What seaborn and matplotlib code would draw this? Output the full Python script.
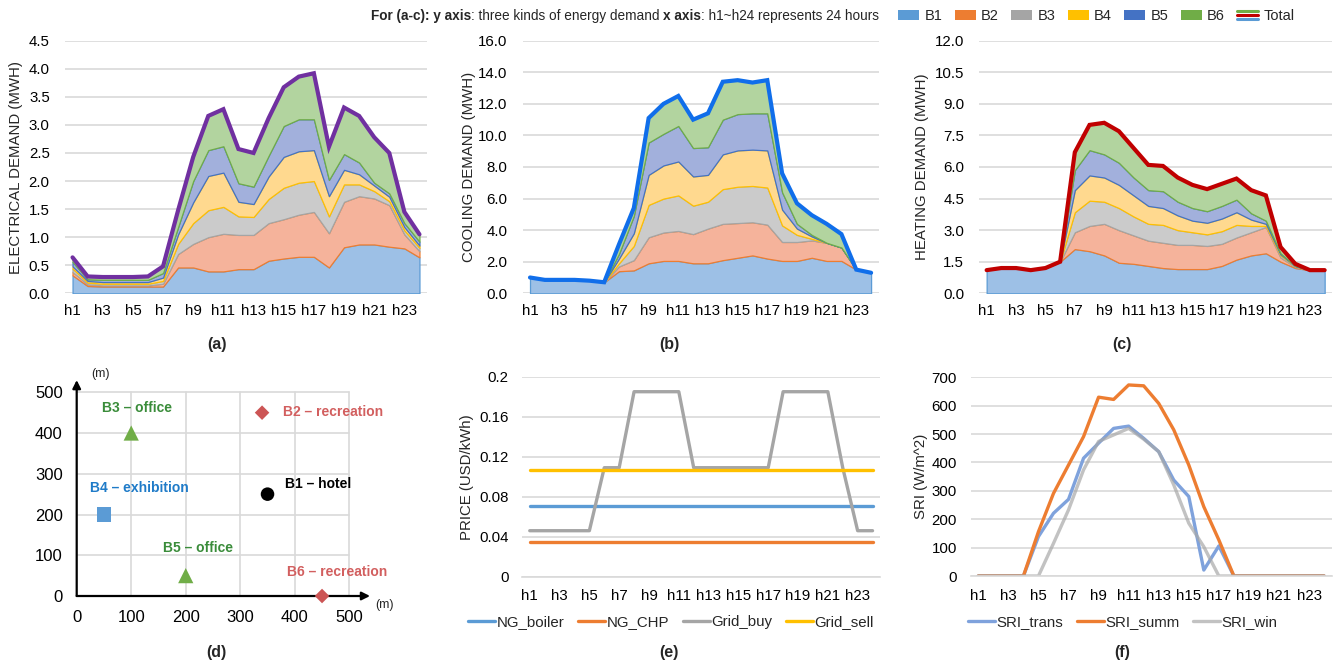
import numpy as np
import pandas as pd
import seaborn as sns
import matplotlib
matplotlib.use("Agg")
import matplotlib.pyplot as plt
from matplotlib.patches import Patch
from matplotlib.lines import Line2D
from matplotlib.legend_handler import HandlerBase
from matplotlib.ticker import FormatStrFormatter, FixedLocator

# ---------------- data ----------------
hours = ["h1", "h2", "h3", "h4", "h5", "h6", "h7", "h8", "h9", "h10", "h11", "h12",
         "h13", "h14", "h15", "h16", "h17", "h18", "h19", "h20", "h21", "h22", "h23", "h24"]
buildings = ["B1", "B2", "B3", "B4", "B5", "B6"]

# (a) electrical demand (MWh) per building
elec_B1 = [0.32, 0.13, 0.12, 0.12, 0.12, 0.12, 0.12, 0.46, 0.46, 0.39, 0.39, 0.43, 0.43, 0.58, 0.62, 0.65, 0.65, 0.46, 0.82, 0.87, 0.87, 0.83, 0.80, 0.64]
elec_B2 = [0.06, 0.03, 0.02, 0.02, 0.02, 0.02, 0.05, 0.24, 0.42, 0.61, 0.67, 0.61, 0.61, 0.67, 0.70, 0.75, 0.80, 0.61, 0.81, 0.86, 0.82, 0.74, 0.25, 0.11]
elec_B3 = [0.06, 0.03, 0.03, 0.03, 0.03, 0.03, 0.05, 0.18, 0.37, 0.48, 0.48, 0.33, 0.32, 0.43, 0.56, 0.57, 0.55, 0.30, 0.31, 0.21, 0.13, 0.07, 0.07, 0.06]
elec_B4 = [0.04, 0.03, 0.03, 0.03, 0.03, 0.03, 0.06, 0.17, 0.37, 0.61, 0.61, 0.26, 0.23, 0.40, 0.55, 0.56, 0.55, 0.36, 0.26, 0.18, 0.10, 0.08, 0.06, 0.04]
elec_B5 = [0.08, 0.03, 0.04, 0.04, 0.04, 0.04, 0.08, 0.13, 0.38, 0.46, 0.47, 0.33, 0.31, 0.37, 0.55, 0.57, 0.55, 0.29, 0.28, 0.21, 0.05, 0.06, 0.07, 0.07]
elec_B6 = [0.08, 0.05, 0.05, 0.05, 0.05, 0.06, 0.12, 0.30, 0.43, 0.61, 0.66, 0.61, 0.60, 0.67, 0.69, 0.76, 0.82, 0.59, 0.83, 0.83, 0.81, 0.72, 0.20, 0.13]

# (b) cooling demand (MWh)
cool_B1 = [1.00, 0.85, 0.85, 0.85, 0.80, 0.70, 1.40, 1.45, 1.90, 2.05, 2.05, 1.90, 1.90, 2.10, 2.25, 2.40, 2.20, 2.05, 2.05, 2.25, 2.05, 2.05, 1.50, 1.30]
cool_B2 = [0, 0, 0, 0, 0, 0, 0.30, 0.65, 1.65, 1.80, 1.90, 1.85, 2.20, 2.30, 2.20, 2.10, 2.15, 1.20, 1.20, 1.10, 1.15, 0.85, 0, 0]
cool_B3 = [0, 0, 0, 0, 0, 0, 0.20, 0.90, 2.05, 2.15, 2.25, 1.80, 1.70, 2.20, 2.30, 2.30, 2.35, 1.05, 0.45, 0.10, 0, 0, 0, 0]
cool_B4 = [0, 0, 0, 0, 0, 0, 0.30, 0.80, 1.90, 2.10, 2.15, 1.85, 1.70, 2.20, 2.30, 2.30, 2.35, 1.00, 0.40, 0.15, 0, 0, 0, 0]
cool_B5 = [0, 0, 0, 0, 0, 0, 0.30, 1.10, 2.05, 2.00, 2.25, 1.80, 1.75, 2.20, 2.30, 2.30, 2.35, 1.10, 0.30, 0.10, 0, 0, 0, 0]
cool_B6 = [0, 0, 0, 0, 0, 0, 0.60, 0.50, 1.55, 1.90, 1.90, 1.80, 2.15, 2.40, 2.15, 1.95, 2.10, 1.20, 1.30, 1.25, 1.20, 0.85, 0, 0]

# (c) heating demand (MWh)
heat_B1 = [1.10, 1.20, 1.20, 1.10, 1.20, 1.50, 2.10, 2.00, 1.80, 1.45, 1.40, 1.30, 1.20, 1.15, 1.15, 1.15, 1.30, 1.60, 1.80, 1.90, 1.50, 1.20, 1.10, 1.10]
heat_B2 = [0, 0, 0, 0, 0, 0, 0.80, 1.20, 1.50, 1.55, 1.35, 1.20, 1.20, 1.15, 1.15, 1.10, 1.05, 1.05, 1.10, 1.25, 0.20, 0.05, 0, 0]
heat_B3 = [0, 0, 0, 0, 0, 0, 0.95, 1.20, 1.05, 1.05, 0.90, 0.80, 0.85, 0.70, 0.60, 0.55, 0.60, 0.60, 0.30, 0.05, 0.10, 0.05, 0, 0]
heat_B4 = [0, 0, 0, 0, 0, 0, 1.05, 1.20, 1.15, 1.10, 1.00, 0.85, 0.80, 0.70, 0.55, 0.55, 0.60, 0.60, 0.30, 0.10, 0.05, 0, 0, 0]
heat_B5 = [0, 0, 0, 0, 0, 0, 0.95, 1.20, 1.10, 1.05, 0.85, 0.75, 0.80, 0.65, 0.60, 0.55, 0.60, 0.60, 0.30, 0.15, 0.05, 0, 0, 0]
heat_B6 = [0, 0, 0, 0, 0, 0, 0.85, 1.20, 1.50, 1.50, 1.40, 1.20, 1.20, 1.15, 1.10, 1.05, 1.05, 1.00, 1.10, 1.20, 0.30, 0.10, 0, 0]

# (d) building locations (m)
bld_names = ["B1 \u2013 hotel", "B2 \u2013 recreation", "B3 \u2013 office",
             "B4 \u2013 exhibition", "B5 \u2013 office", "B6 \u2013 recreation"]
bld_x = [350, 340, 100, 50, 200, 450]
bld_y = [250, 450, 400, 200, 50, 0]

# (e) prices (USD/kWh)
ng_boiler = [0.071, 0.071, 0.071, 0.071, 0.071, 0.071, 0.071, 0.071, 0.071, 0.071, 0.071, 0.071,
             0.071, 0.071, 0.071, 0.071, 0.071, 0.071, 0.071, 0.071, 0.071, 0.071, 0.071, 0.071]
ng_chp = [0.035, 0.035, 0.035, 0.035, 0.035, 0.035, 0.035, 0.035, 0.035, 0.035, 0.035, 0.035,
          0.035, 0.035, 0.035, 0.035, 0.035, 0.035, 0.035, 0.035, 0.035, 0.035, 0.035, 0.035]
grid_buy = [0.046, 0.046, 0.046, 0.046, 0.046, 0.109, 0.109, 0.185, 0.185, 0.185, 0.185, 0.109,
            0.109, 0.109, 0.109, 0.109, 0.109, 0.185, 0.185, 0.185, 0.185, 0.109, 0.046, 0.046]
grid_sell = [0.107, 0.107, 0.107, 0.107, 0.107, 0.107, 0.107, 0.107, 0.107, 0.107, 0.107, 0.107,
             0.107, 0.107, 0.107, 0.107, 0.107, 0.107, 0.107, 0.107, 0.107, 0.107, 0.107, 0.107]

# (f) solar radiation intensity (W/m^2)
sri_trans = [0, 0, 0, 0, 139, 221, 270, 415, 468, 520, 528, 485, 438, 338, 280, 21, 106, 0, 0, 0, 0, 0, 0, 0]
sri_summ = [0, 0, 0, 0, 156, 291, 391, 491, 630, 622, 673, 670, 608, 515, 391, 244, 127, 0, 0, 0, 0, 0, 0, 0]
sri_win = [0, 0, 0, 0, 0, 115, 233, 374, 474, 497, 520, 482, 438, 321, 186, 103, 0, 0, 0, 0, 0, 0, 0, 0]

# ---------------- style ----------------
sns.set_theme(style="white")
plt.rcParams["font.family"] = ["Liberation Sans", "DejaVu Sans"]
plt.rcParams["axes.unicode_minus"] = False

W, H = 1338, 667
fig = plt.figure(figsize=(W / 100, H / 100), dpi=100)


def rect(l, r, t, b):
    return [l / W, 1 - b / H, (r - l) / W, (b - t) / H]


edge_cols = ["#5B9BD5", "#ED7D31", "#A5A5A5", "#FFC000", "#4472C4", "#70AD47"]
fill_cols = ["#9DC0E6", "#F5B39B", "#CBCBCB", "#FFD98F", "#A2B0DC", "#B2D49F"]
GRID = "#D9D9D9"
TICK_FS = 10.8
x = np.arange(1, 25)


def demand_panel(box, series, total_color, ymax, step, ylabel, label_x):
    ax = fig.add_axes(rect(*box))
    base = np.zeros(24)
    for vals, fc, ec in zip(series, fill_cols, edge_cols):
        top = base + np.asarray(vals, dtype=float)
        ax.fill_between(x, base, top, facecolor=fc, edgecolor=ec, linewidth=0.9, zorder=2)
        base = top
    sns.lineplot(x=x, y=base, ax=ax, color=total_color, linewidth=3.0, zorder=4,
                 solid_joinstyle="miter")
    ax.set_xlim(0.5, 24.5)
    ax.set_ylim(0, ymax)
    ax.set_yticks(np.arange(0, ymax + 1e-9, step))
    ax.yaxis.set_major_formatter(FormatStrFormatter("%.1f"))
    ax.set_xticks(x[::2])
    ax.set_xticklabels(hours[::2])
    ax.grid(axis="y", color=GRID, linewidth=1.2)
    ax.grid(axis="x", visible=False)
    ax.set_axisbelow(True)
    for s in ax.spines.values():
        s.set_visible(False)
    ax.tick_params(axis="both", length=0, labelsize=TICK_FS, colors="#000000")
    ax.tick_params(axis="y", pad=11)
    ax.tick_params(axis="x", pad=8)
    ax.set_xlabel("")
    ax.set_ylabel(ylabel, fontsize=10.8)
    ax.yaxis.set_label_coords((label_x - box[0]) / (box[1] - box[0]), 0.5)
    return ax


ax_a = demand_panel((65, 427, 40.7, 293.3),
                    [elec_B1, elec_B2, elec_B3, elec_B4, elec_B5, elec_B6],
                    "#7030A0", 4.5, 0.5, "ELECTRICAL DEMAND (MWH)", 23)
ax_b = demand_panel((522.6, 878.5, 40.7, 293.3),
                    [cool_B1, cool_B2, cool_B3, cool_B4, cool_B5, cool_B6],
                    "#106EEA", 16.0, 2.0, "COOLING DEMAND (MWH)", 476)
ax_c = demand_panel((979.3, 1332, 40.7, 293.3),
                    [heat_B1, heat_B2, heat_B3, heat_B4, heat_B5, heat_B6],
                    "#C00000", 12.0, 1.5, "HEATING DEMAND (MWH)", 929)


def line_panel(box, series, labels, colors, alphas, ymax, yticks, ylabels, ylabel, label_x, leg_x):
    ax = fig.add_axes(rect(*box))
    for vals, lab, col, al in zip(series, labels, colors, alphas):
        sns.lineplot(x=x, y=vals, ax=ax, color=col, linewidth=2.4, label=lab, alpha=al,
                     solid_joinstyle="round")
    ax.set_xlim(0.5, 24.5)
    ax.set_ylim(0, ymax)
    ax.set_yticks(yticks)
    ax.set_yticklabels(ylabels)
    ax.set_xticks(x[::2])
    ax.set_xticklabels(hours[::2])
    ax.xaxis.set_minor_locator(FixedLocator(np.arange(0.5, 25, 1.0)))
    ax.grid(axis="y", color=GRID, linewidth=1.2)
    ax.grid(axis="x", visible=False)
    ax.set_axisbelow(True)
    for k in ["top", "right", "left"]:
        ax.spines[k].set_visible(False)
    ax.spines["bottom"].set_color(GRID)
    ax.spines["bottom"].set_linewidth(1.2)
    ax.tick_params(axis="both", which="major", length=0, labelsize=TICK_FS, colors="#000000")
    ax.tick_params(axis="x", which="minor", length=4, width=1, color=GRID, direction="out")
    ax.tick_params(axis="y", pad=10)
    ax.tick_params(axis="x", pad=9)
    ax.set_xlabel("")
    ax.set_ylabel(ylabel, fontsize=10.8)
    ax.yaxis.set_label_coords((label_x - box[0]) / (box[1] - box[0]), 0.5)
    ax.legend(loc="center", bbox_to_anchor=(leg_x / W, 1 - 622 / H),
              bbox_transform=fig.transFigure, ncol=len(series), frameon=False,
              fontsize=10.8, handlelength=1.8, handletextpad=0.1, columnspacing=0.9,
              borderpad=0, borderaxespad=0)
    return ax


ax_e = line_panel((522.3, 880, 376.7, 576.7),
                  [ng_boiler, ng_chp, grid_buy, grid_sell],
                  ["NG_boiler", "NG_CHP", "Grid_buy", "Grid_sell"],
                  ["#5B9BD5", "#ED7D31", "#A5A5A5", "#FFC000"], [1, 1, 1, 1],
                  0.2, [0, 0.04, 0.08, 0.12, 0.16, 0.2],
                  ["0", "0.04", "0.08", "0.12", "0.16", "0.2"],
                  "PRICE (USD/kWh)", 474, 671)
ax_f = line_panel((970.8, 1331.6, 377.3, 576),
                  [sri_trans, sri_summ, sri_win],
                  ["SRI_trans", "SRI_summ", "SRI_win"],
                  ["#7FA2DC", "#ED7D31", "#A8A8A8"], [1, 1, 0.7],
                  700, list(range(0, 701, 100)), [str(v) for v in range(0, 701, 100)],
                  "SRI (W/m^2)", 928, 1123)

# (d) map of buildings
sx = 272.6 / 500
sy = 203.7 / 500
ax_d = fig.add_axes(rect(76.7, 76.7 + 545 * sx, 596 - 540 * sy, 596))
bdf = pd.DataFrame({"name": bld_names, "x": bld_x, "y": bld_y})
pal = {bld_names[0]: "#000000", bld_names[1]: "#CC5555", bld_names[2]: "#70AD47",
       bld_names[3]: "#5B9BD5", bld_names[4]: "#70AD47", bld_names[5]: "#CC5555"}
mks = {bld_names[0]: "o", bld_names[1]: "D", bld_names[2]: "^",
       bld_names[3]: "s", bld_names[4]: "^", bld_names[5]: "D"}
szs = {bld_names[0]: 95, bld_names[1]: 55, bld_names[2]: 120,
       bld_names[3]: 110, bld_names[4]: 120, bld_names[5]: 55}
sns.scatterplot(data=bdf, x="x", y="y", hue="name", style="name", size="name",
                palette=pal, markers=mks, sizes=szs, legend=False, ax=ax_d,
                edgecolor="none", clip_on=False, zorder=5)
txt_cols = ["#000000", "#D25F5F", "#3A8C3A", "#1F7BC8", "#3A8C3A", "#D25F5F"]
txt_pos = [(382, 275), (378, 452), (46, 462), (24, 264), (159, 119), (386, 60)]
for name, (tx, ty), tc in zip(bld_names, txt_pos, txt_cols):
    ax_d.text(tx, ty, name, color=tc, fontsize=10, fontweight="bold", va="center", ha="left")
ax_d.set_xlim(0, 545)
ax_d.set_ylim(0, 540)
for v in range(100, 501, 100):
    ax_d.plot([v, v], [0, 500], color=GRID, lw=1.2, zorder=0)
    ax_d.plot([0, 500], [v, v], color=GRID, lw=1.2, zorder=0)
ax_d.annotate("", xy=(538, 0), xytext=(0, 0), annotation_clip=False,
              arrowprops=dict(arrowstyle="-|>", color="black", lw=1.6, mutation_scale=12,
                              shrinkA=0, shrinkB=0))
ax_d.annotate("", xy=(0, 530), xytext=(0, 0), annotation_clip=False,
              arrowprops=dict(arrowstyle="-|>", color="black", lw=1.6, mutation_scale=12,
                              shrinkA=0, shrinkB=0))
ax_d.text(43, 544, "(m)", fontsize=9, ha="center", va="center", clip_on=False)
ax_d.text(564, -22, "(m)", fontsize=9, ha="center", va="center", clip_on=False)
ax_d.set_xticks(range(0, 501, 100))
ax_d.set_yticks(range(0, 501, 100))
ax_d.set_xlabel("")
ax_d.set_ylabel("")
for s in ax_d.spines.values():
    s.set_visible(False)
ax_d.grid(False)
ax_d.tick_params(axis="both", length=0, labelsize=12, pad=10, colors="#000000")

# panel labels
for lab, px, py in [("(a)", 216.7, 345), ("(b)", 669, 345), ("(c)", 1122, 345),
                    ("(d)", 216.7, 652), ("(e)", 669, 652), ("(f)", 1122, 652)]:
    fig.text(px / W, 1 - py / H, lab, ha="center", va="center", fontsize=11.5, fontweight="bold")

# top annotation text (chained right-to-left)
t4 = fig.text(879 / W, 1 - 16 / H, ": h1~h24 represents 24 hours", ha="right", va="center", fontsize=9.8)
t3 = ax_a.annotate("x axis", xy=(0, 0), xycoords=t4, ha="right", va="bottom",
                   fontsize=9.8, fontweight="bold", annotation_clip=False)
t2 = ax_a.annotate(": three kinds of energy demand ", xy=(0, 0), xycoords=t3, ha="right",
                   va="bottom", fontsize=9.8, annotation_clip=False)
t1 = ax_a.annotate("For (a-c): y axis", xy=(0, 0), xycoords=t2, ha="right", va="bottom",
                   fontsize=9.8, fontweight="bold", annotation_clip=False)


# top legend
class TotalKey:
    pass


class TotalHandler(HandlerBase):
    def create_artists(self, legend, orig_handle, xdescent, ydescent, width, height, fontsize, trans):
        arts = []
        for frac, c in zip([1.0, 0.5, 0.0], ["#70AD47", "#C00000", "#5B9BD5"]):
            yy = -ydescent + height * (0.1 + 0.8 * frac)
            arts.append(Line2D([-xdescent, -xdescent + width], [yy, yy], color=c, lw=2.2,
                               transform=trans, solid_capstyle="round"))
        return arts


handles = [Patch(facecolor=c, edgecolor="none") for c in edge_cols] + [TotalKey()]
fig.legend(handles=handles, labels=buildings + ["Total"], loc="center left",
           bbox_to_anchor=(898 / W, 1 - 16 / H), ncol=7, frameon=False, fontsize=10.5,
           handlelength=1.45, handleheight=0.65, handletextpad=0.35, columnspacing=0.85,
           borderpad=0, borderaxespad=0, handler_map={TotalKey: TotalHandler()})

fig.savefig("out.png", dpi=100)
